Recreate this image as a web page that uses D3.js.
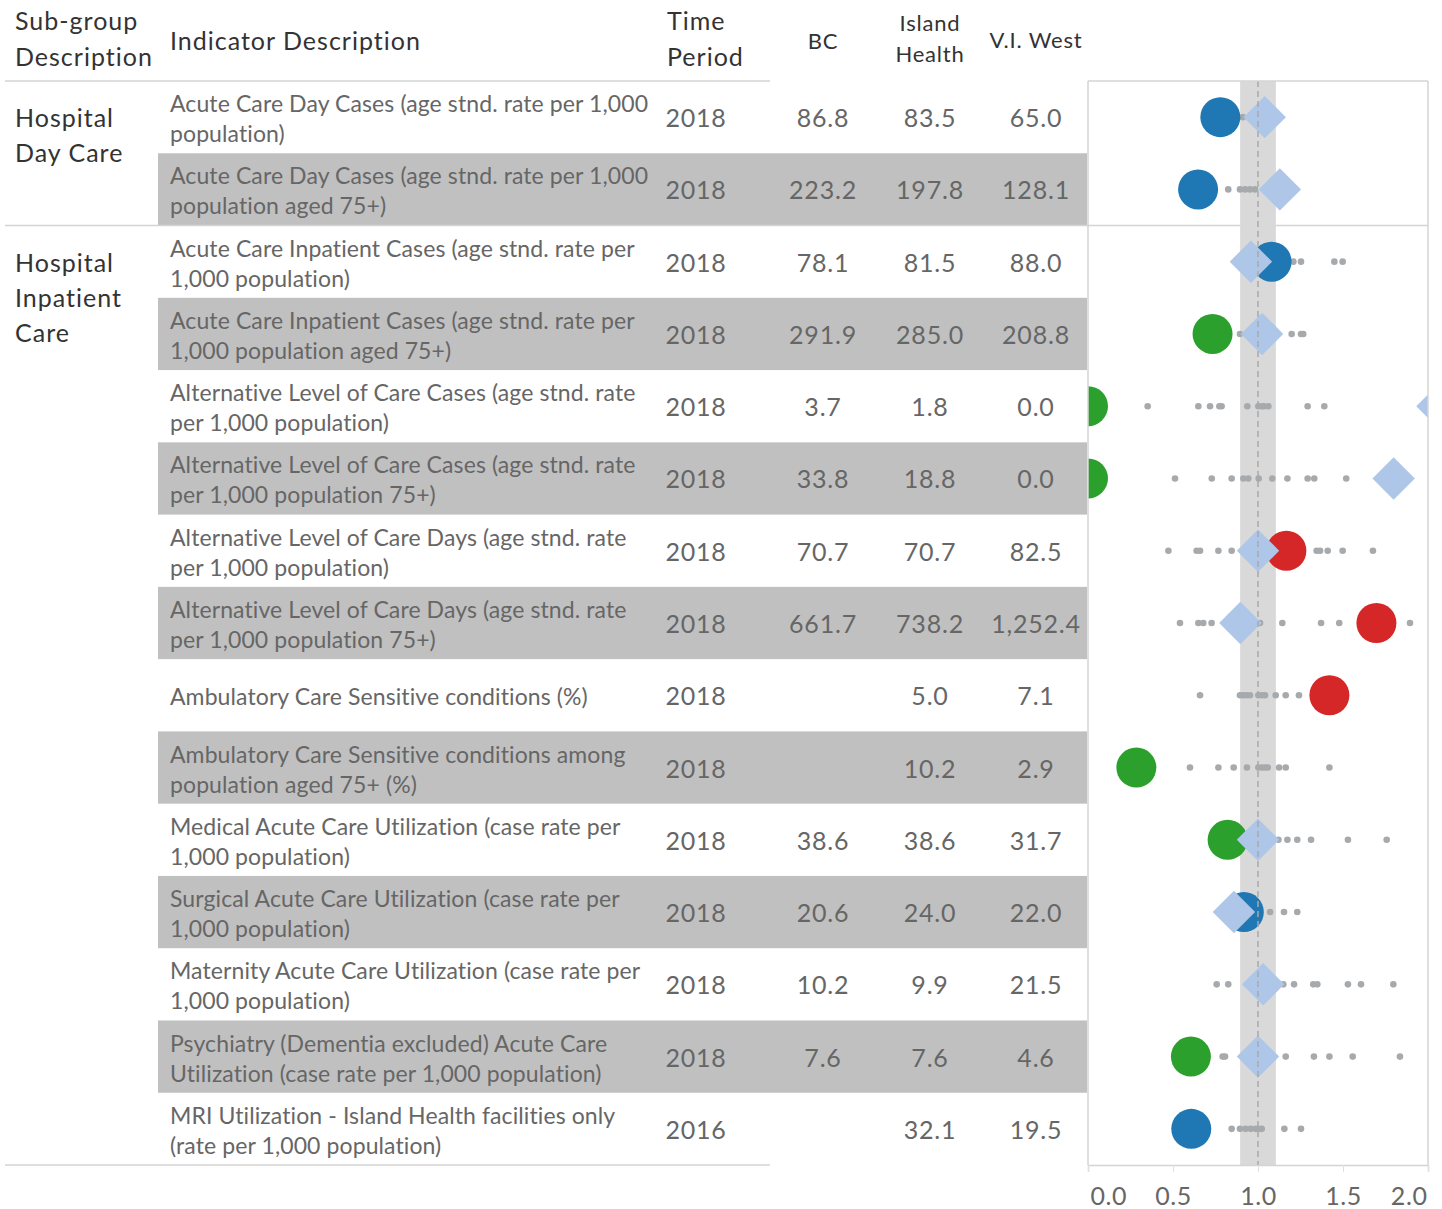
<!DOCTYPE html>
<html>
<head>
<meta charset="utf-8">
<script src="https://cdn.jsdelivr.net/npm/d3@7"></script>
<style>
  html, body { margin: 0; padding: 0; background: #fff; }
  svg { display: block; font-family: Lato, "Noto Sans", sans-serif; }
</style>
</head>
<body>
<svg id="chart" width="1442" height="1209"></svg>
<script>
// ---------------- DATA ----------------
const subgroups = [
  { label: ["Hospital", "Day Care"], first: 0, last: 1 },
  { label: ["Hospital", "Inpatient", "Care"], first: 2, last: 14 }
];
const indicators = [
  ["Acute Care Day Cases (age stnd. rate per 1,000", "population)"],
  ["Acute Care Day Cases (age stnd. rate per 1,000", "population aged 75+)"],
  ["Acute Care Inpatient Cases (age stnd. rate per", "1,000 population)"],
  ["Acute Care Inpatient Cases (age stnd. rate per", "1,000 population aged 75+)"],
  ["Alternative Level of Care Cases (age stnd. rate", "per 1,000 population)"],
  ["Alternative Level of Care Cases (age stnd. rate", "per 1,000 population 75+)"],
  ["Alternative Level of Care Days (age stnd. rate", "per 1,000 population)"],
  ["Alternative Level of Care Days (age stnd. rate", "per 1,000 population 75+)"],
  ["Ambulatory Care Sensitive conditions (%)"],
  ["Ambulatory Care Sensitive conditions among", "population aged 75+ (%)"],
  ["Medical Acute Care Utilization (case rate per", "1,000 population)"],
  ["Surgical Acute Care Utilization (case rate per", "1,000 population)"],
  ["Maternity Acute Care Utilization (case rate per", "1,000 population)"],
  ["Psychiatry (Dementia excluded) Acute Care", "Utilization (case rate per 1,000 population)"],
  ["MRI Utilization - Island Health facilities only", "(rate per 1,000 population)"]
];
const periods = ["2018","2018","2018","2018","2018","2018","2018","2018","2018","2018","2018","2018","2018","2018","2016"];
const bcValues = [86.8, 223.2, 78.1, 291.9, 3.7, 33.8, 70.7, 661.7, null, null, 38.6, 20.6, 10.2, 7.6, null];
const ihValues = [83.5, 197.8, 81.5, 285.0, 1.8, 18.8, 70.7, 738.2, 5.0, 10.2, 38.6, 24.0, 9.9, 7.6, 32.1];
const vwValues = [65.0, 128.1, 88.0, 208.8, 0.0, 0.0, 82.5, 1252.4, 7.1, 2.9, 31.7, 22.0, 21.5, 4.6, 19.5];
const vwStatus = ["similar","similar","similar","lower","lower","lower","higher","higher","higher","lower","lower","similar","higher","lower","similar"];
// other local health areas, ratio to Island Health
const otherAreas = [
  [0.91],
  [0.825, 0.894, 0.924, 0.953, 0.982],
  [1.208, 1.253, 1.449, 1.498],
  [0.894, 1.198, 1.253, 1.266],
  [0.351, 0.649, 0.718, 0.773, 0.786, 0.937, 1.002, 1.022, 1.035, 1.061, 1.292, 1.39],
  [0.512, 0.728, 0.845, 0.914, 0.943, 1.004, 1.084, 1.173, 1.292, 1.331, 1.519],
  [0.473, 0.639, 0.659, 0.767, 0.845, 1.345, 1.365, 1.41, 1.498, 1.676],
  [0.541, 0.649, 0.678, 0.727, 1.012, 1.143, 1.371, 1.478, 1.894],
  [0.659, 0.894, 0.914, 0.933, 0.953, 1.002, 1.022, 1.041, 1.104, 1.163, 1.241],
  [0.6, 0.767, 0.857, 0.935, 1.002, 1.022, 1.041, 1.057, 1.124, 1.163, 1.42],
  [1.12, 1.173, 1.231, 1.312, 1.529, 1.757],
  [1.002, 1.071, 1.153, 1.231],
  [0.757, 0.825, 1.149, 1.212, 1.325, 1.349, 1.529, 1.606, 1.796],
  [0.792, 0.806, 1.163, 1.329, 1.42, 1.557, 1.835],
  [0.845, 0.894, 0.927, 0.957, 0.986, 1.002, 1.022, 1.155, 1.253]
];
const axisTicks = [0, 0.5, 1.0, 1.5, 2.0];
const referenceValue = 1.0;
const bandRange = [0.895, 1.105];
const columnHeaders = { bc: ["BC"], ih: ["Island", "Health"], vw: ["V.I. West"] };

// ---------------- LAYOUT ----------------
const svg = d3.select("#chart");
const plotTop = 81, plotBottom = 1165;
const rowIdx = d3.range(indicators.length);
const y = d3.scaleBand().domain(rowIdx).range([plotTop, plotBottom]).padding(0);
const x = d3.scaleLinear().domain([0, 2]).range([1088, 1428]);
const statusColor = { similar: "#1f77b4", lower: "#2ca02c", higher: "#d62728" };
const fmt = d3.format(",.1f");
const colX = { year: 696, bc: 823, ih: 930, vw: 1036 };
const hdrColor = "#333333", txtColor = "#666666";

// shaded rows
svg.append("g").selectAll("rect").data(rowIdx.filter(i => i % 2 === 1)).join("rect")
  .attr("x", 158).attr("width", 1087 - 158)
  .attr("y", i => y(i)).attr("height", y.bandwidth())
  .attr("fill", "#c0c0c0");

// header text
const hdr = svg.append("g").attr("fill", hdrColor);
function multiline(g, lines, xPos, yc, lh, anchor, size, ls) {
  const n = lines.length;
  lines.forEach((t, k) => {
    g.append("text").attr("x", xPos).attr("y", yc + (k - (n - 1) / 2) * lh)
      .attr("dominant-baseline", "central").attr("text-anchor", anchor)
      .attr("font-size", size).attr("letter-spacing", ls || 0).text(t);
  });
}
multiline(hdr, ["Sub-group", "Description"], 15, 38, 36, "start", 25, 1);
multiline(hdr, ["Indicator Description"], 170, 40, 36, "start", 25, 1);
multiline(hdr, ["Time", "Period"], 667, 38, 36, "start", 25, 1);
multiline(hdr, columnHeaders.bc, colX.bc, 40, 31, "middle", 22, 0.8);
multiline(hdr, columnHeaders.ih, colX.ih, 38, 31, "middle", 22, 0.8);
multiline(hdr, columnHeaders.vw, colX.vw, 39, 31, "middle", 22, 0.8);

// subgroup labels
subgroups.forEach(sg => {
  const g = svg.append("g").attr("fill", hdrColor);
  sg.label.forEach((t, k) => {
    g.append("text").attr("x", 15).attr("y", y(sg.first) + y.bandwidth() / 2 + k * 35)
      .attr("dominant-baseline", "central").attr("font-size", 25)
      .attr("letter-spacing", 1).text(t);
  });
});

// indicator rows
const rows = svg.append("g").attr("fill", txtColor);
rowIdx.forEach(i => {
  const yc = y(i) + y.bandwidth() / 2;
  multiline(rows, indicators[i], 170, yc + 1, 30, "start", 23, 0.1);
  rows.append("text").attr("x", colX.year).attr("y", yc).attr("dominant-baseline", "central")
    .attr("text-anchor", "middle").attr("font-size", 25).attr("letter-spacing", 0.7).text(periods[i]);
  [["bc", bcValues], ["ih", ihValues], ["vw", vwValues]].forEach(([k, arr]) => {
    if (arr[i] == null) return;
    rows.append("text").attr("x", colX[k]).attr("y", yc).attr("dominant-baseline", "central")
      .attr("text-anchor", "middle").attr("font-size", 25).attr("letter-spacing", 0.8)
      .text(fmt(arr[i]));
  });
});

// lines
const lineColor = "#d4d4d4";
const lines = svg.append("g").attr("stroke", lineColor).attr("stroke-width", 1.5);
lines.append("line").attr("x1", 5).attr("x2", 770).attr("y1", plotTop).attr("y2", plotTop);
lines.append("line").attr("x1", 5).attr("x2", 770).attr("y1", plotBottom).attr("y2", plotBottom);
subgroups.slice(0, -1).forEach(sg => {
  const yy = y(sg.last) + y.bandwidth();
  lines.append("line").attr("x1", 5).attr("x2", x.range()[1]).attr("y1", yy).attr("y2", yy);
});

// plot
const plot = svg.append("g");
svg.append("defs").append("clipPath").attr("id", "clip").append("rect")
  .attr("x", x.range()[0]).attr("y", plotTop).attr("width", x.range()[1] - x.range()[0]).attr("height", plotBottom - plotTop);
plot.append("rect").attr("x", x(bandRange[0])).attr("width", x(bandRange[1]) - x(bandRange[0]))
  .attr("y", plotTop).attr("height", plotBottom - plotTop).attr("fill", "#d9d9d9");

const marks = plot.append("g").attr("clip-path", "url(#clip)");
rowIdx.forEach(i => {
  const yc = y(i) + y.bandwidth() / 2;
  marks.append("g").selectAll("circle").data(otherAreas[i]).join("circle")
    .attr("cx", d => x(d)).attr("cy", yc).attr("r", 3.3).attr("fill", "#a7aaad");
});
rowIdx.forEach(i => {
  const yc = y(i) + y.bandwidth() / 2;
  const v = vwValues[i] / ihValues[i];
  marks.append("circle").attr("cx", x(v)).attr("cy", yc).attr("r", 20)
    .attr("fill", statusColor[vwStatus[i]]);
});
const diamond = d3.symbol().type(d3.symbolSquare).size(30 * 30);
rowIdx.forEach(i => {
  if (bcValues[i] == null) return;
  const yc = y(i) + y.bandwidth() / 2;
  const v = bcValues[i] / ihValues[i];
  marks.append("path").attr("d", diamond)
    .attr("transform", `translate(${x(v)},${yc}) rotate(45)`)
    .attr("fill", "#aec7e8");
});
plot.append("line").attr("x1", x(referenceValue)).attr("x2", x(referenceValue))
  .attr("y1", plotTop).attr("y2", plotBottom).attr("stroke", "#a9a9a9")
  .attr("stroke-width", 1.5).attr("stroke-dasharray", "6,4");

// plot frame
const frame = plot.append("g").attr("stroke", lineColor).attr("stroke-width", 1.5).attr("fill", "none");
frame.append("line").attr("x1", x.range()[0]).attr("x2", x.range()[1]).attr("y1", plotTop).attr("y2", plotTop);
frame.append("line").attr("x1", x.range()[0]).attr("x2", x.range()[0]).attr("y1", plotTop).attr("y2", plotBottom);
frame.append("line").attr("x1", x.range()[1]).attr("x2", x.range()[1]).attr("y1", plotTop).attr("y2", plotBottom);

// axis
const axis = svg.append("g").attr("transform", `translate(0,${plotBottom})`)
  .call(d3.axisBottom(x).tickValues(axisTicks).tickFormat(d3.format(".1f")).tickSize(7).tickPadding(15));
axis.select(".domain").attr("stroke", lineColor).attr("stroke-width", 1.5);
axis.selectAll(".tick line").attr("stroke", "#e0e0e0");
axis.selectAll(".tick text").attr("fill", txtColor).attr("font-size", 25)
  .attr("letter-spacing", 0.6)
  .attr("font-family", "Lato, 'Noto Sans', sans-serif")
  .attr("text-anchor", (d, i, n) => i === 0 ? "start" : (i === n.length - 1 ? "end" : "middle"))
  .attr("dx", (d, i, n) => i === 0 ? 2 : (i === n.length - 1 ? -1 : 0));
</script>
</body>
</html>
